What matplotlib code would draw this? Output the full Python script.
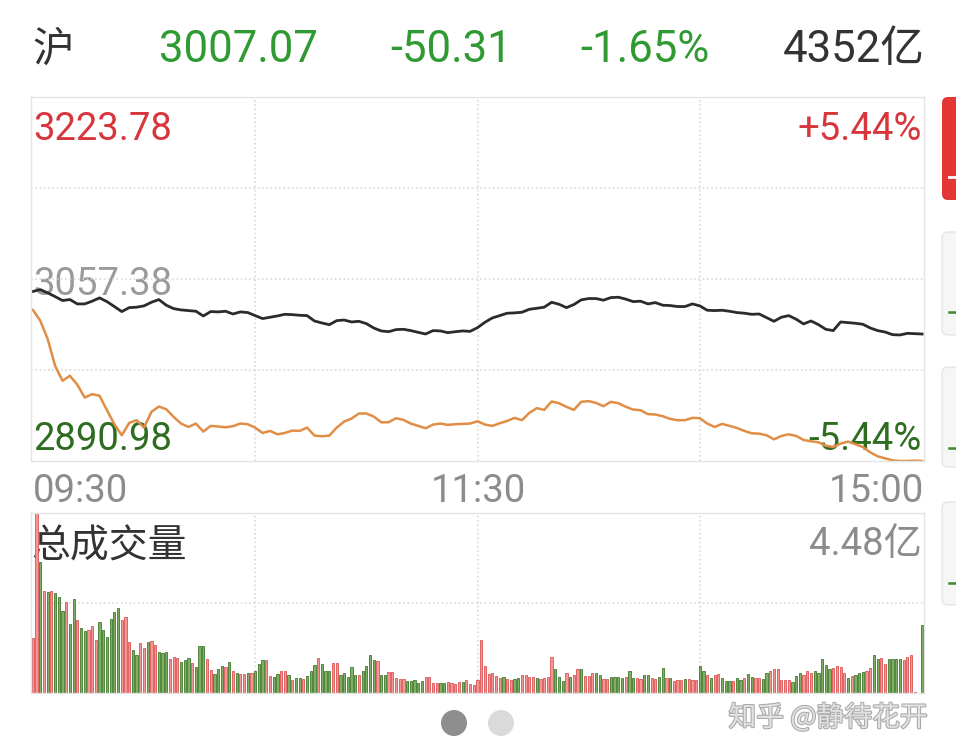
import matplotlib.pyplot as plt
import matplotlib.patheffects as pe
from matplotlib.patches import FancyBboxPatch, Circle

# ---- header quote ----
index_name = '沪'
last_price = '3007.07'
change = '-50.31'
change_pct = '-1.65%'
turnover = '4352亿'

# ---- price panel ----
pre_close = 3057.38
price_high = 3223.78
price_low = 2890.98
pct_up = '+5.44%'
pct_down = '-5.44%'
time_labels = ['09:30', '11:30', '15:00']

# readings taken every 2 minutes (0 = 09:30, 120 = 11:30/13:00, 240 = 15:00)
line_minutes = list(range(0, 241, 2))
index_line = [
    3046.0, 3047.7, 3044.7, 3041.3, 3037.7, 3038.6, 3034.6, 3034.6, 3037.1, 3040.1,
    3036.7, 3032.2, 3027.6, 3031.2, 3031.6, 3032.8, 3036.1, 3038.6, 3033.4, 3030.3,
    3029.1, 3028.5, 3027.9, 3023.6, 3027.6, 3027.3, 3027.9, 3025.4, 3027.3, 3026.7,
    3023.9, 3021.2, 3022.4, 3023.6, 3025.1, 3024.8, 3024.2, 3023.9, 3019.0, 3017.2,
    3015.6,
    3019.3, 3019.9, 3018.1, 3018.7, 3016.6, 3012.6, 3009.9, 3009.2, 3011.1, 3011.4,
    3010.2, 3008.6, 3007.1, 3010.2, 3009.9, 3008.3, 3009.2, 3009.9, 3009.5, 3012.9,
    3017.8, 3021.8, 3023.9, 3026.1, 3026.4, 3027.0, 3029.7, 3030.6, 3031.6, 3036.1,
    3034.3, 3031.2, 3034.0, 3038.3, 3039.5, 3039.5, 3038.0, 3040.4, 3040.7, 3039.0,
    3036.7, 3037.1, 3034.6, 3035.8, 3033.4, 3033.1, 3032.2, 3032.2, 3034.6, 3032.8,
    3028.8, 3028.5, 3028.8, 3027.9, 3026.7, 3026.1, 3025.1, 3025.4, 3022.1, 3018.7,
    3022.4, 3023.9, 3020.6, 3016.3, 3019.0, 3015.7, 3011.4, 3010.2, 3018.1, 3017.5,
    3016.9, 3016.0, 3012.6, 3010.2, 3008.9, 3006.5, 3006.2, 3007.7, 3007.4, 3007.07,
]
equal_weight_line = [
    3029.1, 3019.3, 3002.5, 2978.1, 2964.3, 2968.9, 2960.7, 2949.0, 2952.1, 2950.6,
    2937.4, 2924.6, 2914.5, 2925.8, 2928.3, 2921.5, 2935.9, 2940.8, 2938.3, 2931.3,
    2925.2, 2922.1, 2925.2, 2917.9, 2923.1, 2922.5, 2921.8, 2922.8, 2925.2, 2924.6,
    2921.5, 2916.6, 2918.5, 2915.4, 2916.6, 2918.8, 2918.5, 2921.5, 2914.2, 2913.6,
    2914.2,
    2921.5, 2927.0, 2929.8, 2934.4, 2934.4, 2931.6, 2926.4, 2926.4, 2930.1, 2928.6,
    2925.2, 2923.1, 2920.9, 2924.3, 2925.2, 2924.0, 2924.6, 2924.9, 2925.2, 2927.3,
    2924.3, 2923.1, 2925.5, 2927.6, 2930.4, 2928.3, 2935.0, 2939.3, 2937.7, 2945.4,
    2943.8, 2940.5, 2937.7, 2945.1, 2945.7, 2944.1, 2941.1, 2945.1, 2943.8, 2940.6,
    2938.0, 2937.4, 2933.8, 2933.5, 2931.9, 2929.5, 2928.3, 2928.3, 2930.4, 2930.1,
    2925.2, 2922.1, 2924.9, 2923.1, 2921.2, 2918.5, 2916.3, 2916.0, 2914.5, 2910.8,
    2913.9, 2915.4, 2913.9, 2910.2, 2909.0, 2908.1, 2905.0, 2903.8, 2906.9, 2908.7,
    2906.3, 2903.8, 2898.9, 2895.3, 2893.4, 2891.6, 2891.0, 2891.0, 2891.3, 2891.0,
]

# ---- volume panel (亿), one bar per minute, r = up, g = down ----
volume_label = '总成交量'
volume_max_label = '4.48亿'
volume_max = 4.48
volumes = [
    1.36, 4.48, 3.27, 2.54, 2.51, 2.54, 2.48, 2.38, 2.05, 2.27,
    1.71, 2.34, 1.81, 1.63, 1.55, 1.58, 1.66, 1.32, 1.76, 1.58,
    1.40, 1.84, 2.02, 2.11, 1.82, 1.88, 1.27, 1.06, 0.95, 1.24,
    1.13, 1.26, 1.30, 1.20, 1.01, 1.00, 1.01, 0.85, 0.89, 0.86,
    0.77, 0.82, 0.87, 0.74, 0.64, 1.16, 1.16, 0.85, 0.57, 0.47,
    0.60, 0.66, 0.64, 0.76, 0.55, 0.49, 0.47, 0.47, 0.50, 0.49,
    0.54, 0.72, 0.81, 0.81, 0.43, 0.39, 0.48, 0.54, 0.54, 0.44,
    0.32, 0.37, 0.38, 0.34, 0.43, 0.54, 0.69, 0.87, 0.72, 0.56,
    0.56, 0.74, 0.75, 0.45, 0.49, 0.41, 0.64, 0.45, 0.46, 0.54,
    0.66, 0.94, 0.81, 0.80, 0.46, 0.46, 0.52, 0.52, 0.37, 0.36,
    0.35, 0.31, 0.29, 0.32, 0.26, 0.29, 0.39, 0.39, 0.25, 0.25,
    0.25, 0.26, 0.27, 0.24, 0.22, 0.28, 0.27, 0.32, 0.23, 0.21,
    0.32,
    1.31, 0.68, 0.48, 0.49, 0.43, 0.38, 0.41, 0.34, 0.32, 0.34,
    0.38, 0.44, 0.45, 0.41, 0.40, 0.38, 0.36, 0.37, 0.41, 0.90,
    0.60, 0.40, 0.30, 0.49, 0.39, 0.44, 0.60, 0.60, 0.42, 0.42,
    0.49, 0.51, 0.44, 0.35, 0.35, 0.40, 0.40, 0.41, 0.37, 0.41,
    0.55, 0.37, 0.37, 0.36, 0.44, 0.44, 0.37, 0.35, 0.39, 0.61,
    0.37, 0.37, 0.31, 0.32, 0.32, 0.36, 0.34, 0.32, 0.32, 0.68,
    0.54, 0.45, 0.38, 0.46, 0.47, 0.37, 0.29, 0.30, 0.31, 0.37,
    0.32, 0.37, 0.48, 0.40, 0.38, 0.37, 0.36, 0.50, 0.55, 0.60,
    0.59, 0.32, 0.32, 0.32, 0.28, 0.42, 0.49, 0.46, 0.54, 0.51,
    0.56, 0.51, 0.85, 0.69, 0.59, 0.61, 0.67, 0.64, 0.49, 0.38,
    0.42, 0.46, 0.51, 0.53, 0.55, 0.62, 0.94, 0.85, 0.86, 0.73,
    0.85, 0.85, 0.85, 0.85, 0.81, 0.89, 0.94, 0.03, 0.00, 1.69,
]
volume_dir = (
    'rrgrgrgggr' 'ggrggrrrgg' 'ggggrrrggr' 'rgrrgggrrr'
    'gggrgggrrg' 'ggrgrgrrgr' 'gggrrggrrg' 'rggrgggrgg'
    'grrgggggrg' 'gggrggrrrr' 'rgggggrrrr' 'ggrrrrgrrr'
    'r'
    'rrrrrrgrrg' 'grrrrgrrrr' 'gggrgrrgrr' 'rggrrggggr'
    'ggrrggrrgg' 'rgrrrgrrrg' 'grgrrgggrg' 'grggrrggrr'
    'rrrrgggrrr' 'gggggrrrrg' 'rgggrrggrr' 'ggggrrrrgg'
)

RED_FACE, RED_EDGE = '#f29696', '#dc5454'
GREEN_FACE, GREEN_EDGE = '#7fae64', '#3f7a2c'

W, H = 956, 754
fig = plt.figure(figsize=(W / 100, H / 100), dpi=100, facecolor='white')

# overlay in pixel coordinates for texts and side decorations
ov = fig.add_axes([0, 0, 1, 1], zorder=0)
ov.set_xlim(0, W)
ov.set_ylim(H, 0)
ov.axis('off')

num_font = ['Roboto', 'Noto Sans CJK SC']
cjk_font = ['Noto Sans CJK SC', 'DejaVu Sans']

# header
ov.text(32, 62, index_name, fontsize=30, color='#333333', family=cjk_font, va='baseline')
ov.text(238, 62, last_price, fontsize=31.5, color='#2f9a32', family=num_font, ha='center', va='baseline')
ov.text(451, 62, change, fontsize=31.5, color='#2f9a32', family=num_font, ha='center', va='baseline')
ov.text(645, 62, change_pct, fontsize=31.5, color='#2f9a32', family=num_font, ha='center', va='baseline')
ov.text(925, 62, turnover, fontsize=31.5, color='#333333', family=num_font, ha='right', va='baseline')

# price labels
ov.text(33, 140, f'{price_high:.2f}', fontsize=27.5, color='#d8363d', family=num_font, va='baseline')
ov.text(922, 140, pct_up, fontsize=27.5, color='#d8363d', family=num_font, ha='right', va='baseline')
ov.text(33, 295, f'{pre_close:.2f}', fontsize=27.5, color='#9a9a9a', family=num_font, va='baseline')
ov.text(33, 450, f'{price_low:.2f}', fontsize=27.5, color='#2e6d1f', family=num_font, va='baseline')
ov.text(922, 450, pct_down, fontsize=27.5, color='#2e6d1f', family=num_font, ha='right', va='baseline')

ov.text(33, 502, time_labels[0], fontsize=27.5, color='#8c8c8c', family=num_font, va='baseline')
ov.text(478, 502, time_labels[1], fontsize=27.5, color='#8c8c8c', family=num_font, ha='center', va='baseline')
ov.text(924, 502, time_labels[2], fontsize=27.5, color='#8c8c8c', family=num_font, ha='right', va='baseline')

ov.text(31, 557, volume_label, fontsize=28, color='#333333', family=cjk_font, va='baseline')
ov.text(922, 555, volume_max_label, fontsize=27.5, color='#8c8c8c', family=num_font, ha='right', va='baseline')

# watermark
ov.text(828, 726, '知乎 @静待花开', fontsize=20, color='#e2e2e2', family=cjk_font, ha='center', va='baseline',
        path_effects=[pe.withStroke(linewidth=1.5, foreground='#a9a9a9')])

# right side buttons (cut off by the screen edge)
ov.add_patch(FancyBboxPatch((942, 97), 30, 103, boxstyle='round,pad=0,rounding_size=6',
                            fc='#e53636', ec='none'))
ov.plot([949, 957], [177, 177], color='white', lw=2)
for top, h, dash in [(232, 103, 312), (367, 100, 448), (502, 103, 583)]:
    ov.add_patch(FancyBboxPatch((942, top), 30, h, boxstyle='round,pad=0,rounding_size=6',
                                fc='#f6f6f6', ec='#e6e6e6', lw=1))
    ov.plot([949, 957], [dash, dash], color='#3d8a2f', lw=1.8)

# page dots
ov.add_patch(Circle((454, 723), 13, fc='#8e8e8e', ec='none'))
ov.add_patch(Circle((501, 723), 13, fc='#dadada', ec='none'))

grid_style = dict(color='#d6d6d6', linestyle=(0, (1.1, 1.7)), linewidth=1.1)


def style_panel(ax):
    ax.set_facecolor('none')
    for s in ax.spines.values():
        s.set_color('#e4e4e4')
        s.set_linewidth(1.0)
    ax.tick_params(length=0, labelbottom=False, labelleft=False)
    ax.set_xticks([60, 120, 180])
    ax.grid(True, **grid_style)
    ax.set_axisbelow(True)


# price panel
ax = fig.add_axes([31 / W, 1 - 461 / H, 893 / W, 364 / H], zorder=1)
style_panel(ax)
ax.set_xlim(-0.5, 240.5)
ax.set_ylim(price_low, price_high)
step = (price_high - pre_close) / 2
ax.set_yticks([pre_close - step, pre_close, pre_close + step])
ax.plot(line_minutes, index_line, color='#2b2b2b', lw=2.0, solid_joinstyle='round')
ax.plot(line_minutes, equal_weight_line, color='#e08d45', lw=1.8, solid_joinstyle='round')

# volume panel
axv = fig.add_axes([31 / W, 1 - 693 / H, 893 / W, 180 / H], zorder=1)
style_panel(axv)
axv.set_xlim(-0.5, 240.5)
axv.set_ylim(0, volume_max)
axv.set_yticks([volume_max / 2])
faces = [RED_FACE if d == 'r' else GREEN_FACE for d in volume_dir]
edges = [RED_EDGE if d == 'r' else GREEN_EDGE for d in volume_dir]
axv.bar(range(len(volumes)), volumes, width=0.6, color=faces, edgecolor=edges, linewidth=0.6)

fig.savefig('out.png', dpi=100, facecolor='white')
